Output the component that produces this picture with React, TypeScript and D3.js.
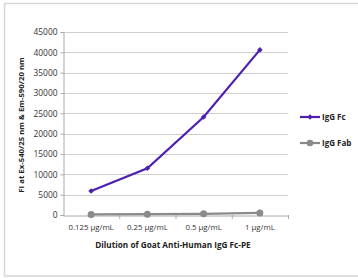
import * as d3 from "d3";
import React, { useRef, useEffect } from "react";

const doses = ["0.125 µg/mL", "0.25 µg/mL", "0.5 µg/mL", "1 µg/mL"];
const fcValues = [5900, 11500, 24100, 40600];
const fabValues = [150, 200, 300, 500];
const yTicks = [0, 5000, 10000, 15000, 20000, 25000, 30000, 35000, 40000, 45000];
const seriesNames = ["IgG Fc", "IgG Fab"];
const seriesColors = ["#4e1fb0", "#8a8a8a"];

function App() {
  const svgRef = useRef<SVGSVGElement>(null);
  const width = 358;
  const height = 278;
  const marginLeft = 63; // plot area, in pixels
  const plotRight = 288;
  const plotTop = 32;
  const plotBottom = 215;
  const font = "'Open Sans', 'DejaVu Sans', sans-serif";

  useEffect(() => {
    const svg = d3.select(svgRef.current);
    svg.selectAll("*").remove(); // clear previous rendering

    // outer frame
    svg.append("rect")
      .attr("x", 4.5).attr("y", 3.5)
      .attr("width", 360).attr("height", 272.5)
      .attr("fill", "white")
      .attr("stroke", "#d6d6d6")
      .attr("stroke-width", 1.5);

    const xScale = d3.scaleBand()
      .domain(doses)
      .range([marginLeft, plotRight]);

    const yScale = d3.scaleLinear()
      .domain([0, 45000])
      .range([plotBottom, plotTop]);

    // gridlines
    svg.append("g")
      .selectAll("line")
      .data(yTicks.filter(t => t > 0))
      .enter()
      .append("line")
      .attr("x1", marginLeft)
      .attr("x2", plotRight)
      .attr("y1", d => Math.round(yScale(d)) + 0.5)
      .attr("y2", d => Math.round(yScale(d)) + 0.5)
      .attr("stroke", "#cfcfcf")
      .attr("stroke-width", 1);

    // y axis
    const yAxis = d3.axisLeft(yScale)
      .tickValues(yTicks)
      .tickFormat(d3.format("d"))
      .tickSize(3)
      .tickPadding(3);
    const gy = svg.append("g")
      .attr("transform", `translate(${marginLeft + 0.5},0)`)
      .call(yAxis);
    gy.selectAll("text")
      .style("font-family", font)
      .style("font-size", "8.4px")
      .style("fill", "#333");
    gy.selectAll("line").attr("stroke", "#aaa");
    gy.select(".domain").attr("stroke", "#aaa");

    // x axis
    const xAxis = d3.axisBottom(xScale).tickSize(0).tickPadding(9);
    const gx = svg.append("g")
      .attr("transform", `translate(0,${plotBottom + 0.5})`)
      .call(xAxis);
    gx.select(".domain").attr("stroke", "#aaa");
    gx.selectAll("text")
      .style("font-family", font)
      .style("font-size", "7.8px")
      .style("fill", "#333");

    // tick marks between categories
    svg.append("g")
      .selectAll("line")
      .data(doses)
      .enter()
      .append("line")
      .attr("x1", d => (xScale(d) as number) + xScale.bandwidth() + 0.5)
      .attr("x2", d => (xScale(d) as number) + xScale.bandwidth() + 0.5)
      .attr("y1", plotBottom)
      .attr("y2", plotBottom + 4)
      .attr("stroke", "#aaa");

    const cx = (d: string) => (xScale(d) as number) + xScale.bandwidth() / 2;

    const line = d3.line<number>()
      .x((v, i) => cx(doses[i]))
      .y(v => yScale(v));

    // IgG Fab series
    svg.append("path")
      .datum(fabValues)
      .attr("d", line)
      .attr("fill", "none")
      .attr("stroke", seriesColors[1])
      .attr("stroke-width", 2.2);
    svg.append("g")
      .selectAll("circle")
      .data(fabValues)
      .enter()
      .append("circle")
      .attr("cx", (v, i) => cx(doses[i]))
      .attr("cy", v => yScale(v))
      .attr("r", 3.5)
      .attr("fill", seriesColors[1]);

    // IgG Fc series
    svg.append("path")
      .datum(fcValues)
      .attr("d", line)
      .attr("fill", "none")
      .attr("stroke", seriesColors[0])
      .attr("stroke-width", 2.2);
    svg.append("g")
      .selectAll("path")
      .data(fcValues)
      .enter()
      .append("path")
      .attr("d", d3.symbol(d3.symbolSquare, 16))
      .attr("transform", (v, i) => `translate(${cx(doses[i])},${yScale(v)}) rotate(45)`)
      .attr("fill", seriesColors[0]);

    // axis titles
    svg.append("text")
      .text("Dilution of Goat Anti-Human IgG Fc-PE")
      .attr("x", 173)
      .attr("y", 248)
      .attr("text-anchor", "middle")
      .style("font-family", font)
      .style("font-weight", "bold")
      .style("font-size", "8.2px")
      .style("fill", "#222");

    svg.append("text")
      .text("FI at Ex-540/25 nm & Em-590/20 nm")
      .attr("transform", "translate(24,125) rotate(-90)")
      .attr("text-anchor", "middle")
      .style("font-family", font)
      .style("font-weight", "bold")
      .style("font-size", "7.8px")
      .style("fill", "#222");

    // legend
    const legend = svg.append("g")
      .selectAll("g")
      .data(seriesNames)
      .enter()
      .append("g")
      .attr("transform", (d, i) => `translate(300,${117 + i * 26})`);
    legend.append("line")
      .attr("x1", 0).attr("x2", 20)
      .attr("stroke", (d, i) => seriesColors[i])
      .attr("stroke-width", 2.2);
    legend.append("path")
      .attr("d", (d, i) => d3.symbol(i === 0 ? d3.symbolSquare : d3.symbolCircle, i === 0 ? 14 : 34)())
      .attr("transform", (d, i) => `translate(10,0) rotate(${i === 0 ? 45 : 0})`)
      .attr("fill", (d, i) => seriesColors[i]);
    legend.append("text")
      .text(d => d)
      .attr("x", 22)
      .attr("y", 3)
      .style("font-family", font)
      .style("font-weight", "bold")
      .style("font-size", "8px")
      .style("fill", "#222");
  }, []);

  return (
    <div style={{ position: "absolute", left: 0, top: 0 }}>
      <svg ref={svgRef} width={width} height={height}></svg>
    </div>
  );
}

export default App;
